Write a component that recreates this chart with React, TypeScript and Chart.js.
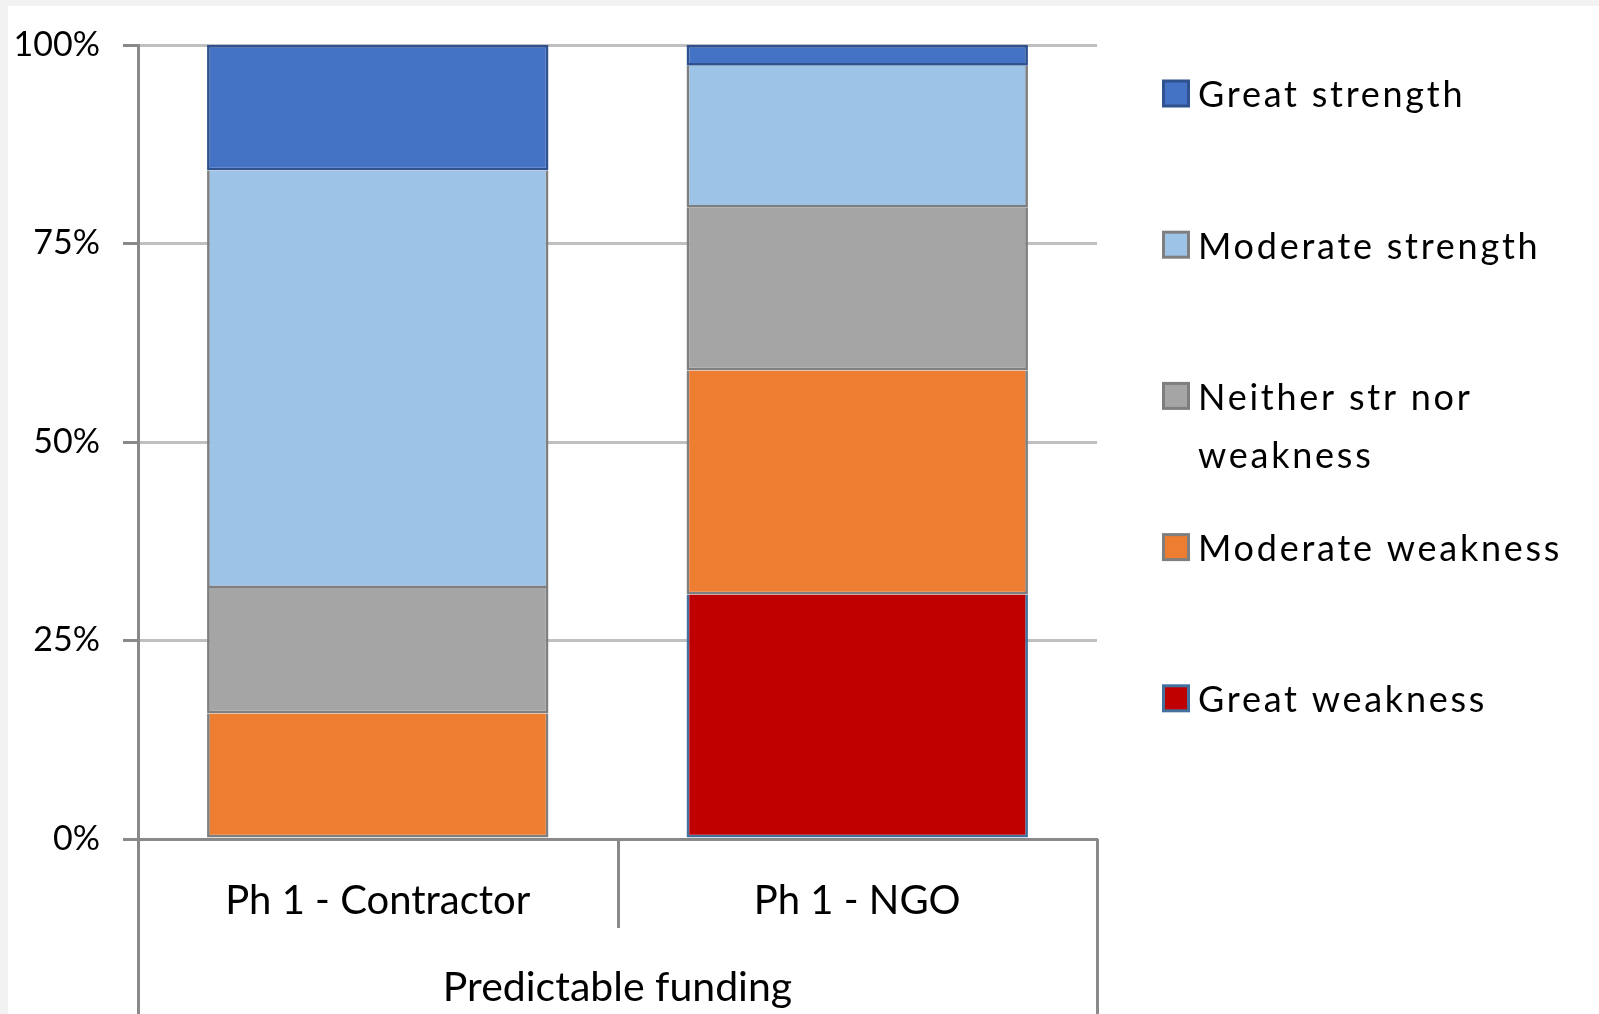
import React, { useEffect, useRef } from "react";
import { Chart, registerables } from "chart.js";

Chart.register(...registerables);

// ---- data ----
const categories = ["Ph 1 - Contractor", "Ph 1 - NGO"];
const groupLabel = "Predictable funding";
const seriesNames = [
  "Great weakness",
  "Moderate weakness",
  "Neither str nor weakness",
  "Moderate strength",
  "Great strength",
];
const greatWeakness = [0, 30.8];
const moderateWeakness = [15.8, 28.2];
const neitherStrNorWeakness = [15.8, 20.5];
const moderateStrength = [52.6, 17.9];
const greatStrength = [15.8, 2.6];
const yTickValues = [0, 25, 50, 75, 100];

const seriesValues = [
  greatWeakness,
  moderateWeakness,
  neitherStrNorWeakness,
  moderateStrength,
  greatStrength,
];
const fillColors = ["#c00000", "#ed7d31", "#a5a5a5", "#9dc3e6", "#4472c4"];
const edgeColors = ["#41719c", "#7f7f7f", "#7f7f7f", "#7f7f7f", "#2f528f"];

const FONT = 'Lato, "Open Sans", sans-serif';
const AXIS_GRAY = "#898989";

const boxLinesPlugin = {
  id: "boxLines",
  afterDraw(chart: any) {
    const { ctx, chartArea: a } = chart;
    const xs = chart.scales.x;
    const c0 = xs.getPixelForValue(0);
    const c1 = xs.getPixelForValue(1);
    const mid = (c0 + c1) / 2;
    const al = (v: number) => Math.round(v) + 0.5;
    ctx.save();
    ctx.strokeStyle = AXIS_GRAY;
    ctx.lineWidth = 3;
    ctx.beginPath();
    ctx.moveTo(al(a.left), a.bottom);
    ctx.lineTo(al(a.left), chart.height);
    ctx.moveTo(al(a.right), a.bottom);
    ctx.lineTo(al(a.right), chart.height);
    ctx.moveTo(al(mid), a.bottom);
    ctx.lineTo(al(mid), a.bottom + 89);
    ctx.stroke();
    ctx.restore();
  },
};

const sideLegendPlugin = {
  id: "sideLegend",
  afterDraw(chart: any) {
    const { ctx } = chart;
    const boxX = 1154;
    const boxSize = 28;
    const border = 3;
    const textX = 1190;
    const firstY = 87.5;
    const step = 151.2;
    const lineGap = 58.3;
    const baselineOffset = 13.8;
    const maxW = 392;
    ctx.save();
    ctx.font = `36px ${FONT}`;
    (ctx as any).letterSpacing = "2.75px";
    ctx.textBaseline = "alphabetic";
    ctx.textAlign = "left";
    const ds = chart.data.datasets;
    for (let k = 0; k < ds.length; k++) {
      const d = ds[ds.length - 1 - k];
      const cy = firstY + k * step;
      ctx.fillStyle = d.borderColor;
      ctx.fillRect(boxX, cy - boxSize / 2, boxSize, boxSize);
      ctx.fillStyle = d.backgroundColor;
      ctx.fillRect(
        boxX + border,
        cy - boxSize / 2 + border,
        boxSize - 2 * border,
        boxSize - 2 * border
      );
      // wrap text
      const words = String(d.label).split(" ");
      const lines: string[] = [];
      let cur = "";
      for (const w of words) {
        const t = cur ? cur + " " + w : w;
        if (ctx.measureText(t).width > maxW && cur) {
          lines.push(cur);
          cur = w;
        } else cur = t;
      }
      if (cur) lines.push(cur);
      ctx.fillStyle = "#000";
      lines.forEach((ln, i) =>
        ctx.fillText(ln, textX, cy + baselineOffset + i * lineGap)
      );
    }
    ctx.restore();
  },
};

export default function App() {
  const ref = useRef<HTMLCanvasElement>(null);
  useEffect(() => {
    const canvas = ref.current!;
    const chart = new Chart(canvas, {
      type: "bar",
      data: {
        labels: categories,
        datasets: seriesNames.map((name, i) => ({
          label: name,
          data: seriesValues[i],
          backgroundColor: fillColors[i],
          borderColor: edgeColors[i],
          borderWidth: {
            top: i === seriesNames.length - 1 ? 2.7 : 0,
            right: 2.7,
            bottom: 2.7,
            left: 2.7,
          },
          borderSkipped: false,
          inflateAmount: 0,
          categoryPercentage: 0.712,
          barPercentage: 1,
        })),
      },
      options: {
        responsive: false,
        animation: false,
        layout: { padding: { top: 39, right: 502, bottom: 0, left: 0 } },
        plugins: {
          legend: { display: false },
          tooltip: { enabled: false },
        },
        scales: {
          x: {
            stacked: true,
            grid: { display: false },
            border: { display: true, color: AXIS_GRAY, width: 3 },
            ticks: {
              font: { family: FONT, size: 40 },
              color: "#000",
              padding: 30,
              maxRotation: 0,
              autoSkip: false,
            },
            title: {
              display: true,
              text: groupLabel,
              font: { family: FONT, size: 41 },
              color: "#000",
              padding: { top: 0, bottom: 2 },
            },
            afterFit: (s: any) => {
              s.height = 175;
            },
          },
          y: {
            stacked: true,
            min: 0,
            max: 100,
            grid: {
              color: "#bfbfbf",
              lineWidth: 3,
              tickColor: AXIS_GRAY,
              tickLength: 15,
              drawTicks: true,
            },
            border: { display: true, color: AXIS_GRAY, width: 3 },
            ticks: {
              font: { family: FONT, size: 34, lineHeight: 0.6 },
              color: "#000",
              padding: 23,
              callback: (v: any) => v + "%",
            },
            afterBuildTicks: (s: any) => {
              s.ticks = yTickValues.map((v) => ({ value: v }));
            },
            afterFit: (s: any) => {
              s.width = 130;
            },
          },
        },
      },
      plugins: [boxLinesPlugin, sideLegendPlugin],
    } as any);
    return () => chart.destroy();
  }, []);

  return (
    <div
      style={{
        position: "fixed",
        left: 0,
        top: 0,
        width: 1599,
        height: 1014,
        background: "#f2f2f2",
        overflow: "hidden",
      }}
    >
      <div
        style={{
          position: "absolute",
          left: 8,
          top: 6,
          width: 1591,
          height: 1008,
          background: "#ffffff",
        }}
      >
        <canvas
          ref={ref}
          width={1591}
          height={1008}
          style={{ display: "block", width: 1591, height: 1008 }}
        />
      </div>
    </div>
  );
}
